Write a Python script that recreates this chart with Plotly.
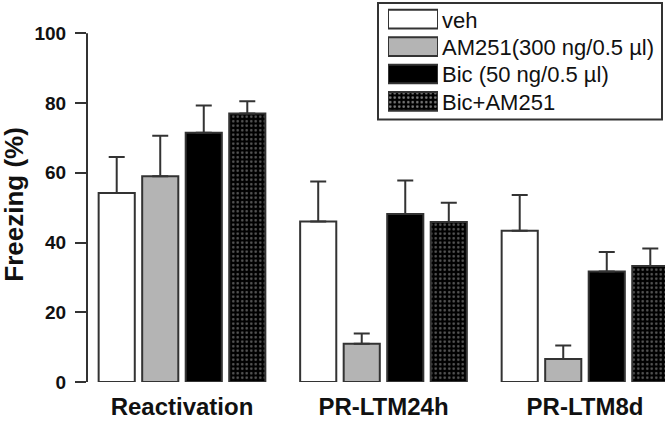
import plotly.graph_objects as go

categories = ["Reactivation", "PR-LTM24h", "PR-LTM8d"]
series_names = ["veh", "AM251(300 ng/0.5 µl)", "Bic (50 ng/0.5 µl)", "Bic+AM251"]
veh = [54.2, 46.0, 43.4]
veh_err = [10.3, 11.5, 10.2]
am251 = [59.0, 11.0, 6.6]
am251_err = [11.6, 2.9, 3.9]
bic = [71.5, 48.2, 31.7]
bic_err = [7.8, 9.6, 5.6]
bic_am251 = [77.0, 45.9, 33.3]
bic_am251_err = [3.5, 5.5, 5.0]
y_ticks = [0, 20, 40, 60, 80, 100]

W, H = 670, 422
ML, MR, MT, MB = 87, 5, 2, 32
PW, PH = W - ML - MR, H - MT - MB


def px_x(p):
    return (p - ML) / PW


def px_y(p):
    return (H - MB - p) / PH


EDGE = "#333333"
fills = ["#ffffff", "#b4b4b4", "#000000", "#000000"]
patterns = ["", "", "", "."]
values = [veh, am251, bic, bic_am251]
errors = [veh_err, am251_err, bic_err, bic_am251_err]

fig = go.Figure()
for i, (name, v, e) in enumerate(zip(series_names, values, errors)):
    pat = dict(shape=patterns[i])
    if patterns[i]:
        pat.update(bgcolor="#000000", fgcolor="#b0b0b0", size=4.5, solidity=0.25)
    fig.add_trace(go.Bar(
        x=categories, y=v, name=name, offsetgroup=str(i),
        marker=dict(color=fills[i], line=dict(color=EDGE, width=2), pattern=pat),
        error_y=dict(type="data", symmetric=False, array=e, arrayminus=[0] * len(e),
                     color=EDGE, thickness=2, width=8),
        showlegend=False, xaxis="x", yaxis="y",
    ))

# legend drawn as a small bar subplot
fig.add_trace(go.Bar(
    y=series_names, x=[1] * len(series_names), orientation="h", width=0.68,
    marker=dict(color=fills, line=dict(color=EDGE, width=2),
                pattern=dict(shape=patterns, bgcolor="#000000", fgcolor="#b0b0b0",
                             size=4.5, solidity=0.25)),
    showlegend=False, xaxis="x2", yaxis="y2", hoverinfo="skip",
))

left_cat = -(182 - ML) / 201.5
x_range = [left_cat, left_cat + PW / 201.5]
y_top = 100 * PH / (H - MB - 34)

legend_labels = [
    dict(text=nm, xref="x2", yref="y2", x=1, y=nm, xanchor="left", yanchor="middle",
         xshift=2, yshift=-1, showarrow=False, font=dict(size=22, color="#111111"))
    for nm in series_names
]

fig.update_layout(
    width=W, height=H,
    margin=dict(l=ML, r=MR, t=MT, b=MB),
    paper_bgcolor="white", plot_bgcolor="white",
    barmode="group", bargap=0.136, bargroupgap=0.17,
    font=dict(family="Liberation Sans", color="#111111"),
    xaxis=dict(range=x_range, showline=False, showgrid=False, zeroline=False,
               ticks="", tickfont=dict(size=24, weight="bold", color="#111111"),
               ticklabelstandoff=8),
    yaxis=dict(range=[0, y_top], tickvals=y_ticks, showline=False, showgrid=False,
               zeroline=False, ticks="outside", ticklen=11, tickwidth=2, tickcolor=EDGE,
               tickfont=dict(size=19, weight="bold", color="#111111"),
               ticklabelstandoff=5),
    xaxis2=dict(domain=[px_x(388), px_x(438)], range=[0, 1], visible=False,
                anchor="y2", fixedrange=True),
    yaxis2=dict(domain=[px_y(117.5), px_y(5.5)], range=[3.5, -0.5], type="category",
                categoryarray=series_names, anchor="x2", visible=False),
    shapes=[
        dict(type="line", xref="paper", yref="y", x0=0, x1=0, y0=0, y1=100,
             line=dict(color=EDGE, width=2)),
        dict(type="rect", xref="paper", yref="paper",
             x0=px_x(378), x1=px_x(662), y0=px_y(122), y1=px_y(3),
             line=dict(color=EDGE, width=2), fillcolor="rgba(0,0,0,0)", layer="below"),
    ],
    annotations=[
        dict(text="Freezing (%)", xref="paper", yref="paper", x=px_x(14), y=px_y(209),
             textangle=-90, showarrow=False, font=dict(size=26, weight="bold", color="#111111"),
             xanchor="center", yanchor="middle"),
    ] + legend_labels,
)

fig.write_html("out.html", config={"displayModeBar": False},
               post_script="document.body.style.margin='0';")
